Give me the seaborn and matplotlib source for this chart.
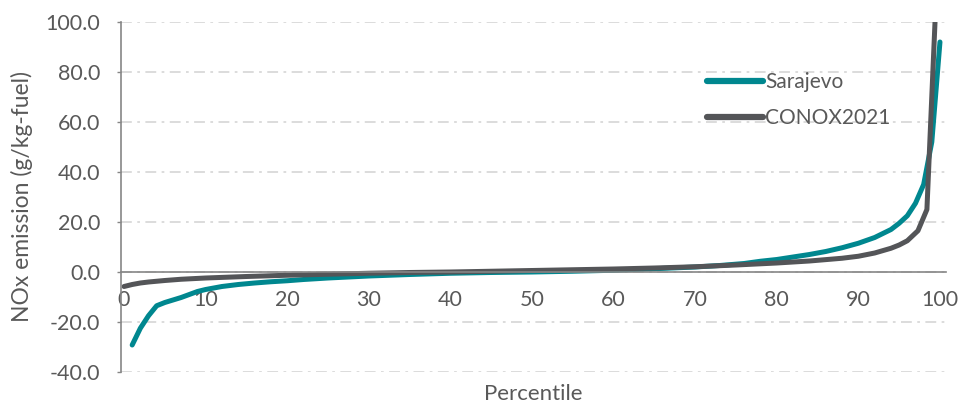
import matplotlib
matplotlib.use("Agg")
import matplotlib.pyplot as plt
import seaborn as sns
import pandas as pd

# Sarajevo remote-sensing NOx distribution, by percentile
sarajevo_pct = [1, 2, 3, 4, 5, 6, 7, 8, 9, 10, 12, 14, 16, 18, 20, 22, 25, 30,
                35, 40, 45, 50, 55, 60, 65, 70, 73, 76, 78, 80, 82, 84, 86, 88,
                90, 92, 94, 95, 96, 97, 98, 99, 100]
sarajevo_nox = [-29.2, -22.5, -17.5, -13.5, -12.2, -11.2, -10.2, -9.0, -7.8,
                -7.0, -5.8, -5.0, -4.4, -3.9, -3.5, -3.0, -2.4, -1.6, -1.0,
                -0.5, -0.2, 0.0, 0.3, 0.7, 1.3, 2.0, 2.6, 3.4, 4.3, 5.0, 6.0,
                7.0, 8.2, 9.7, 11.5, 13.8, 17.0, 19.5, 22.5, 27.5, 35.0, 52.0,
                92.0]

# CONOX2021 reference distribution, by percentile
conox_pct = [0, 1, 2, 3, 5, 7, 10, 15, 20, 25, 30, 35, 40, 45, 50, 55, 60, 65,
             70, 75, 80, 84, 88, 90, 92, 94, 95, 96, 97.3, 98.4, 99.5]
conox_nox = [-5.8, -5.0, -4.4, -4.0, -3.4, -2.9, -2.4, -1.8, -1.3, -0.9, -0.5,
             -0.2, 0.0, 0.3, 0.6, 0.9, 1.2, 1.6, 2.1, 2.8, 3.6, 4.4, 5.5, 6.3,
             7.6, 9.5, 10.8, 12.5, 16.5, 25.0, 108.0]

series_names = ["Sarajevo", "CONOX2021"]
series_colors = ["#00878F", "#545558"]

x_ticks = [0, 10, 20, 30, 40, 50, 60, 70, 80, 90, 100]
y_ticks = [-40, -20, 0, 20, 40, 60, 80, 100]

df = pd.concat([
    pd.DataFrame({"Percentile": sarajevo_pct, "NOx": sarajevo_nox,
                  "Series": series_names[0]}),
    pd.DataFrame({"Percentile": conox_pct, "NOx": conox_nox,
                  "Series": series_names[1]}),
], ignore_index=True)

sns.set_style("white")
plt.rcParams["font.family"] = ["Lato", "DejaVu Sans"]
text_color = "#595959"

fig = plt.figure(figsize=(9.63, 4.05), dpi=100)
ax = fig.add_axes([121 / 963, 33 / 405, 825 / 963, 350 / 405])

sns.lineplot(data=df, x="Percentile", y="NOx", hue="Series",
             hue_order=series_names, palette=series_colors, linewidth=3.6,
             sort=False, ax=ax, legend=True)
for ln in ax.get_lines():
    ln.set_solid_capstyle("round")
    ln.set_solid_joinstyle("round")

ax.set_xlim(-0.37, 100.74)
ax.set_ylim(-40, 100)
ax.set_xticks(x_ticks)
ax.set_xticklabels([str(t) for t in x_ticks])
ax.set_yticks(y_ticks)
ax.set_yticklabels([f"{t:.1f}" for t in y_ticks])

# dash-dot horizontal gridlines
ax.yaxis.grid(True, color="#D9D9D9", linewidth=1.3,
              linestyle=(0, (6, 3, 1.5, 3)))
ax.xaxis.grid(False)
ax.set_axisbelow(True)

for side in ("top", "right"):
    ax.spines[side].set_visible(False)
ax.spines["left"].set_color("#868686")
ax.spines["left"].set_linewidth(1.2)
ax.spines["bottom"].set_position(("data", 0))
ax.spines["bottom"].set_color("#868686")
ax.spines["bottom"].set_linewidth(1.2)

ax.tick_params(axis="y", which="major", left=True, length=3, width=1,
               color="#868686", pad=12, labelsize=15.5, labelcolor=text_color)
ax.tick_params(axis="x", which="major", bottom=False, length=0, pad=13,
               labelsize=15.5, labelcolor=text_color)

ax.set_xlabel("Percentile", fontsize=16, color=text_color)
ax.xaxis.set_label_coords(0.5, -0.035)
ax.set_ylabel("NOx emission (g/kg-fuel)", fontsize=16.5, color=text_color,
              labelpad=9)

leg = ax.legend(loc="upper left", bbox_to_anchor=(0.70, 0.88), frameon=False,
                fontsize=15, handlelength=2.7, handletextpad=0.1,
                labelspacing=0.75, borderaxespad=0)
for txt in leg.get_texts():
    txt.set_color(text_color)
for h in leg.legend_handles:
    h.set_linewidth(4.5)

fig.savefig("out.png", dpi=100)
